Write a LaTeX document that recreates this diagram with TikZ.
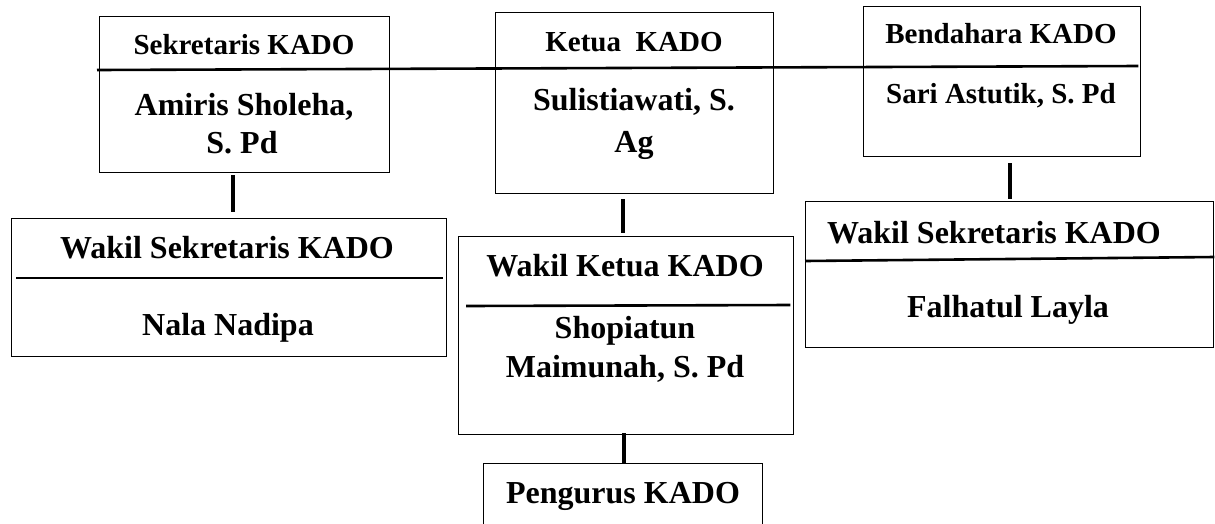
\documentclass[tikz,border=0pt]{standalone}
\usepackage{fontspec}
\setmainfont{Liberation Serif}
\usetikzlibrary{calc}
\begin{document}
\begin{tikzpicture}[x=1pt,y=-1pt,
  box/.style={draw,line width=1.3pt,inner sep=0pt,anchor=north west},
  conn/.style={line width=3.5pt},
  sepline/.style={line width=2.6pt},
  big/.style={font=\bfseries\fontsize{32}{38}\selectfont,anchor=base,inner sep=0pt},
  small/.style={font=\bfseries\fontsize{29}{34}\selectfont,anchor=base,inner sep=0pt}]
\useasboundingbox (0,0) rectangle (1215,523);
% boxes
\node[box,minimum width=290pt,minimum height=156pt] (sek) at (99,16) {};
\node[box,minimum width=278pt,minimum height=181pt] (ket) at (495,12) {};
\node[box,minimum width=277pt,minimum height=150pt] (ben) at (863,6) {};
\node[box,minimum width=435pt,minimum height=138pt] (wsl) at (11,218) {};
\node[box,minimum width=335pt,minimum height=198pt] (wk) at (458,236) {};
\node[box,minimum width=408pt,minimum height=146pt] (wsr) at (805,201) {};
\node[box,minimum width=279pt,minimum height=80pt] (pen) at (483,463) {};
% long horizontal line across the top boxes
\coordinate (hlA) at ($(sek.north west)+(-2,54)$);
\coordinate (hlB) at ($(ben.north east)+(-3,60)$);
\draw[sepline] (hlA) -- (hlB);
% separator lines in lower boxes
\draw[sepline] ($(wsl.north west)+(5,60)$) -- ($(wsl.north east)+(-4,60)$);
\draw[sepline] ($(wk.north west)+(8,70)$) -- ($(wk.north east)+(-4,69)$);
\draw[sepline] ($(wsr.north west)+(0,60)$) -- ($(wsr.north east)+(0,56)$);
% connectors
\draw[conn] ($(sek.south west)+(134,2)$) -- ($(wsl.north west)+(222,-6)$);
\draw[conn] ($(ket.south west)+(128,5)$) -- ($(wk.north west)+(165,-3)$);
\draw[conn] ($(ben.south west)+(147,6)$) -- ($(wsr.north west)+(205,-2)$);
\draw[conn] ($(wk.south west)+(166,-2)$) -- ($(pen.north west)+(141,0)$);
% texts
\node[small] (t1) at (244,54) {Sekretaris KADO};
\node[big] (t2) at (244,115) {Amiris Sholeha,};
\node[big] (t3) at (242,153) {S. Pd};
\node[small] (t4) at (634,51) {Ketua\ \ KADO};
\node[big] (t5) at (634,110) {Sulistiawati, S.};
\node[big] (t6) at (634,152) {Ag};
\node[small] (t7) at (1001,43) {Bendahara KADO};
\node[small] (t8) at (1001,103) {Sari Astutik, S. Pd};
\node[big] (t9) at (227,258) {Wakil Sekretaris KADO};
\node[big] (t10) at (228,335) {Nala Nadipa};
\node[big] (t11) at (625,276) {Wakil Ketua KADO};
\node[big] (t12) at (625,338) {Shopiatun};
\node[big] (t13) at (625,377) {Maimunah, S. Pd};
\node[big] (t14) at (623,503) {Pengurus KADO};
\node[big] (t15) at (994,243) {Wakil Sekretaris KADO};
\node[big] (t16) at (1008,317) {Falhatul Layla};
\end{tikzpicture}
\end{document}
